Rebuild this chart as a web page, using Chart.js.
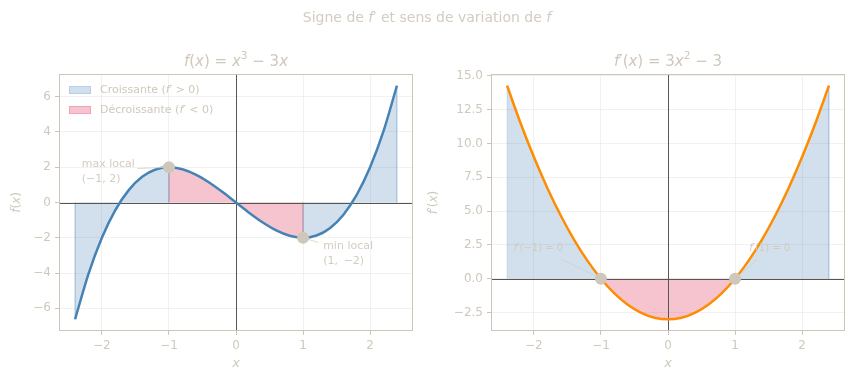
<!DOCTYPE html>
<html>
<head>
<meta charset="utf-8">
<script src="https://cdn.jsdelivr.net/npm/chart.js@4.4.1/dist/chart.umd.min.js"></script>
<style>
  body { margin: 0; background: #fff; }
  canvas { position: absolute; left: 0; top: 0; }
</style>
</head>
<body>
<canvas id="left" width="854" height="381"></canvas>
<canvas id="right" width="854" height="381"></canvas>
<script>
const xs = [-2.4, -2.2, -2.0, -1.8, -1.6, -1.4, -1.2, -1.0, -0.8, -0.6, -0.4, -0.2, 0,
            0.2, 0.4, 0.6, 0.8, 1.0, 1.2, 1.4, 1.6, 1.8, 2.0, 2.2, 2.4];
const fValues = [-6.624, -4.048, -2, -0.432, 0.704, 1.456, 1.872, 2, 1.888, 1.584, 1.136, 0.592, 0,
                 -0.592, -1.136, -1.584, -1.888, -2, -1.872, -1.456, -0.704, 0.432, 2, 4.048, 6.624];
const fpValues = [14.28, 11.52, 9, 6.72, 4.68, 2.88, 1.32, 0, -1.08, -1.92, -2.52, -2.88, -3,
                  -2.88, -2.52, -1.92, -1.08, 0, 1.32, 2.88, 4.68, 6.72, 9, 11.52, 14.28];
const criticalX = [-1, 1];
const extremaY = [2, -2];
const rootsY = [0, 0];

const xTicks = [-2, -1, 0, 1, 2];
const fTicks = [-6, -4, -2, 0, 2, 4, 6];
const fpTicks = [-2.5, 0, 2.5, 5, 7.5, 10, 12.5, 15];

const TEXT = '#cfc8bb';
const SPINE = '#cdc5b8';
const GRID = '#f0eeeb';
const ZERO = '#555555';
const MARK = '#cec7ba';
const FONT = '"DejaVu Sans", sans-serif';
const BLUE_FILL = 'rgba(70,130,180,0.25)', BLUE_EDGE = 'rgba(70,130,180,0.18)';
const PINK_FILL = 'rgba(220,20,60,0.25)', PINK_EDGE = 'rgba(220,20,60,0.18)';

const minus = v => String(v).replace('-', '\u2212');

// text with italic / superscript pieces, like matplotlib mathtext
function rich(ctx, parts, x, y, size, color, align) {
  const font = st => (st === 'i' ? 'italic ' : '') + (st === 's' ? size * 0.7 : size) + 'px ' + FONT;
  let w = 0;
  parts.forEach(([t, st]) => { ctx.font = font(st); w += ctx.measureText(t).width; });
  let cx = align === 'left' ? x : align === 'right' ? x - w : x - w / 2;
  ctx.fillStyle = color;
  ctx.textAlign = 'left';
  ctx.textBaseline = 'middle';
  parts.forEach(([t, st]) => {
    ctx.font = font(st);
    ctx.fillText(t, cx, st === 's' ? y - size * 0.38 : y);
    cx += ctx.measureText(t).width;
  });
}

function fillSets(ys) {
  const bounds = [xs[0], ...criticalX, xs[xs.length - 1]];
  const sets = [];
  for (let k = 0; k < bounds.length - 1; k++) {
    const a = bounds[k], b = bounds[k + 1];
    const idx = xs.map((x, i) => i).filter(i => xs[i] >= a - 1e-9 && xs[i] <= b + 1e-9);
    const up = fpValues[idx[1]] > 0;
    sets.push({
      data: [{ x: a, y: 0 }, ...idx.map(i => ({ x: xs[i], y: ys[i] })), { x: b, y: 0 }],
      fill: 'origin',
      backgroundColor: up ? BLUE_FILL : PINK_FILL,
      borderColor: up ? BLUE_EDGE : PINK_EDGE,
      borderWidth: 1,
      pointRadius: 0,
      tension: 0,
      order: 2
    });
  }
  return sets;
}

function decoPlugin(cfg) {
  return {
    id: 'deco',
    beforeDatasetDraw(chart, args) {
      if (args.index !== 0) return;
      const { ctx, chartArea: a, scales: { x, y } } = chart;
      const y0 = Math.round(y.getPixelForValue(0)) + 0.5;
      const x0 = Math.round(x.getPixelForValue(0)) + 0.5;
      ctx.save();
      ctx.strokeStyle = ZERO;
      ctx.lineWidth = 1;
      ctx.beginPath();
      ctx.moveTo(a.left, y0); ctx.lineTo(a.right, y0);
      ctx.moveTo(x0, a.top); ctx.lineTo(x0, a.bottom);
      ctx.stroke();
      ctx.restore();
    },
    afterDatasetDraw(chart, args) {
      if (args.index !== 0) return;
      const { ctx, scales: { x, y } } = chart;
      ctx.save();
      ctx.strokeStyle = '#d6cfc4';
      ctx.lineWidth = 0.8;
      cfg.notes.forEach(n => {
        ctx.beginPath();
        ctx.moveTo(x.getPixelForValue(n.from[0]), y.getPixelForValue(n.from[1]));
        ctx.lineTo(x.getPixelForValue(n.to[0]), y.getPixelForValue(n.to[1]));
        ctx.stroke();
      });
      ctx.restore();
    },
    afterDraw(chart) {
      const { ctx, chartArea: a, scales: { x, y } } = chart;
      ctx.save();
      ctx.strokeStyle = SPINE;
      ctx.lineWidth = 1;
      ctx.strokeRect(a.left + 0.5, a.top + 0.5, a.right - a.left - 1, a.bottom - a.top - 1);

      const cx = (a.left + a.right) / 2, cy = (a.top + a.bottom) / 2;
      rich(ctx, cfg.title, cx, 62, 15, TEXT);
      rich(ctx, [['x', 'i']], cx, 364, 13, TEXT);
      ctx.save();
      ctx.translate(cfg.yLabelX, cy);
      ctx.rotate(-Math.PI / 2);
      rich(ctx, cfg.yLabel, 0, 0, 12, TEXT);
      ctx.restore();

      if (cfg.mainTitle) rich(ctx, cfg.mainTitle, 427, 18, 14, '#d3ccc0');

      cfg.notes.forEach(n => {
        n.lines.forEach((ln, j) => {
          rich(ctx, ln, x.getPixelForValue(n.at[0]), y.getPixelForValue(n.at[1]) + j * 15, n.size, n.color, 'left');
        });
      });

      if (cfg.legend) {
        cfg.legend.forEach((item, j) => {
          const ly = a.top + 16 + j * 20;
          ctx.fillStyle = '#fff';
          ctx.fillRect(a.left + 10, ly - 4, 22, 8);
          ctx.fillStyle = item.fill;
          ctx.fillRect(a.left + 10, ly - 4, 22, 8);
          ctx.strokeStyle = item.edge;
          ctx.strokeRect(a.left + 10.5, ly - 3.5, 21, 7);
          rich(ctx, item.text, a.left + 41, ly, 11, TEXT, 'left');
        });
      }
      ctx.restore();
    }
  };
}

function makeChart(id, ys, color, yTicks, yMin, yMax, fmt, marks, pad, yWidth, cfg) {
  const tickOpts = { color: TEXT, font: { family: FONT, size: 12 }, padding: 4 };
  return new Chart(document.getElementById(id), {
    type: 'line',
    data: {
      datasets: [
        {
          data: xs.map((x, i) => ({ x, y: ys[i] })),
          borderColor: color,
          borderWidth: 2.5,
          pointRadius: 0,
          cubicInterpolationMode: 'monotone',
          fill: false,
          order: 1
        },
        {
          data: criticalX.map((x, i) => ({ x, y: marks[i] })),
          showLine: false,
          pointRadius: 6,
          pointBackgroundColor: MARK,
          pointBorderWidth: 0,
          order: 0
        },
        ...fillSets(ys)
      ]
    },
    options: {
      responsive: false,
      animation: false,
      devicePixelRatio: 1,
      layout: { padding: { left: pad[0], right: pad[1], top: 74, bottom: 0 } },
      plugins: { legend: { display: false }, tooltip: { enabled: false } },
      scales: {
        x: {
          type: 'linear', min: -2.64, max: 2.64,
          afterBuildTicks: s => { s.ticks = xTicks.map(v => ({ value: v })); },
          afterFit: s => { s.height = 50; },
          grid: { color: GRID, lineWidth: 0.8, tickColor: SPINE, tickLength: 4, tickWidth: 1 },
          border: { display: false },
          ticks: { ...tickOpts, callback: v => minus(v) }
        },
        y: {
          type: 'linear', min: yMin, max: yMax,
          afterBuildTicks: s => { s.ticks = yTicks.map(v => ({ value: v })); },
          afterFit: s => { s.width = yWidth; },
          grid: { color: GRID, lineWidth: 0.8, tickColor: SPINE, tickLength: 4, tickWidth: 1 },
          border: { display: false },
          ticks: { ...tickOpts, callback: v => minus(fmt(v)) }
        }
      }
    },
    plugins: [decoPlugin(cfg)]
  });
}

makeChart('left', fValues, '#4682b4', fTicks, -7.29, 7.29, v => String(v), extremaY, [0, 441], 59, {
  title: [['f', 'i'], ['(', 'n'], ['x', 'i'], [') = ', 'n'], ['x', 'i'], ['3', 's'], [' \u2212 3', 'n'], ['x', 'i']],
  yLabel: [['f', 'i'], ['(', 'n'], ['x', 'i'], [')', 'n']],
  yLabelX: 17,
  mainTitle: [['Signe de ', 'n'], ['f', 'i'], ['\u2032 et sens de variation de ', 'n'], ['f', 'i']],
  legend: [
    { fill: BLUE_FILL, edge: BLUE_EDGE, text: [['Croissante (', 'n'], ['f', 'i'], ['\u2032 > 0)', 'n']] },
    { fill: PINK_FILL, edge: PINK_EDGE, text: [['D\u00e9croissante (', 'n'], ['f', 'i'], ['\u2032 < 0)', 'n']] }
  ],
  notes: [
    { lines: [[['max local', 'n']], [['(\u22121, 2)', 'n']]], at: [-2.3, 2.16], from: [-1.47, 1.93], to: [-1, 2], size: 11, color: '#d3ccc0' },
    { lines: [[['min local', 'n']], [['(1, \u2009\u22122)', 'n']]], at: [1.3, -2.5], from: [1.23, -2.27], to: [1, -2], size: 11, color: '#d3ccc0' }
  ]
});

makeChart('right', fpValues, '#ff8c00', fpTicks, -3.864, 15.144, v => v.toFixed(1), rootsY, [441, 9], 50, {
  title: [['f', 'i'], ['\u2032(', 'n'], ['x', 'i'], [') = 3', 'n'], ['x', 'i'], ['2', 's'], [' \u2212 3', 'n']],
  yLabel: [['f', 'i'], ['\u2032(', 'n'], ['x', 'i'], [')', 'n']],
  yLabelX: 434,
  notes: [
    { lines: [[['f', 'i'], ['\u2032(\u22121) = 0', 'n']]], at: [-2.3, 2.28], from: [-1.6, 1.47], to: [-1, 0], size: 10, color: '#d2cbbf' },
    { lines: [[['f', 'i'], ['\u2032(1) = 0', 'n']]], at: [1.21, 2.28], from: [1.33, 1.4], to: [1, 0], size: 10, color: '#d2cbbf' }
  ]
});
</script>
</body>
</html>
